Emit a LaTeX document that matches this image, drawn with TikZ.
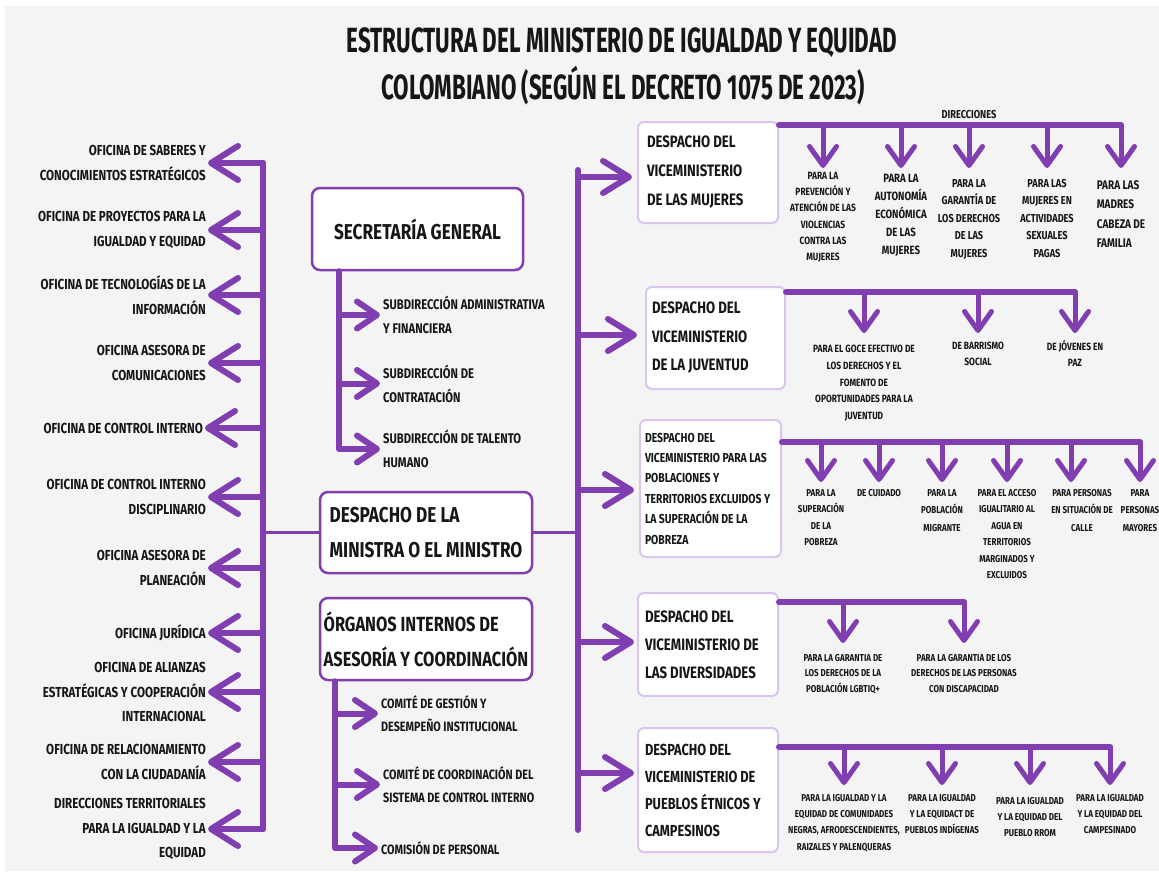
\documentclass[tikz,border=0pt]{standalone}
\usepackage{fontspec}
\setmainfont{Fira Sans}[FakeStretch=0.8]
\newfontfamily\titlefont{Fira Sans}[FakeStretch=0.64]
\usetikzlibrary{arrows.meta,calc}
\definecolor{pur}{RGB}{128,62,176}
\definecolor{lpur}{RGB}{218,196,240}
\definecolor{bgc}{RGB}{244,244,244}
\definecolor{ink}{RGB}{22,22,22}
\newcommand{\fs}[2]{\bfseries\fontsize{#1}{#2}\selectfont}
\begin{document}
\begin{tikzpicture}[x=1pt,y=-1pt,
  conn/.style={draw=pur, line width=6pt, line cap=round, line join=round},
  thinl/.style={draw=pur, line width=3pt},
  barbL/.style={-{Straight Barb[length=27pt,width=34pt,round]}},
  barbR/.style={-{Straight Barb[length=26pt,width=32pt,round]}},
  barbM/.style={-{Straight Barb[length=20pt,width=27pt,round]}},
  barbD/.style={line width=5pt,-{Straight Barb[length=19pt,width=27pt,round]}},
  mainbox/.style={draw=pur, line width=2.5pt, fill=white, rounded corners=8pt, align=flush left, text=ink, inner sep=0pt},
  vicebox/.style={draw=lpur, line width=2pt, fill=white, rounded corners=6pt, align=flush left, text=ink, inner ysep=0pt},
  ltxt/.style={align=flush right, anchor=east, inner sep=0pt, text=ink, font=\fs{14.5}{24.5}},
  stxt/.style={align=flush left, anchor=west, inner sep=0pt, text=ink},
  dtxt/.style={align=center, anchor=north, inner sep=0pt, text=ink},
  ttl/.style={inner sep=0pt, text=ink, font=\titlefont\bfseries\fontsize{35}{40}\selectfont}
]
\useasboundingbox (0,0) rectangle (1159,871);
\fill[white] (0,0) rectangle (1159,871);
\fill[bgc] (5,6) rectangle (1159,871);

% title
\node[ttl] (T1) at (622,42.5) {ESTRUCTURA DEL MINISTERIO DE IGUALDAD Y EQUIDAD};
\node[ttl] (T2) at (623,86) {COLOMBIANO (SEGÚN EL DECRETO 1075 DE 2023)};

% central boxes
\node[mainbox, minimum width=211pt, minimum height=82pt, font=\fs{21.5}{35}] (S) at (417.5,229) {SECRETARÍA GENERAL};
\node[mainbox, minimum width=212pt, minimum height=81pt, font=\fs{21.5}{35}] (D) at (426,532.5) {DESPACHO DE LA\\MINISTRA O EL MINISTRO};
\node[mainbox, minimum width=212pt, minimum height=82pt, font=\fs{20.5}{35}] (O) at (426,639) {ÓRGANOS INTERNOS DE\\ASESORÍA Y COORDINACIÓN};

% left column
\coordinate (lvt) at (263,163);
\coordinate (lvb) at (263,829);
\coordinate (rvt) at (578,170);
\coordinate (rvb) at (578,830);
\draw[conn] (lvt) -- (lvb);
\node[ltxt] (L1) at (206,163) {OFICINA DE SABERES Y\\CONOCIMIENTOS ESTRATÉGICOS};
\node[ltxt] (L2) at (206,230) {OFICINA DE PROYECTOS PARA LA\\IGUALDAD Y EQUIDAD};
\node[ltxt] (L3) at (206,295) {OFICINA DE TECNOLOGÍAS DE LA\\INFORMACIÓN};
\node[ltxt] (L4) at (206,363) {OFICINA ASESORA DE\\COMUNICACIONES};
\node[ltxt] (L5) at (203,428) {OFICINA DE CONTROL INTERNO};
\node[ltxt] (L6) at (206,497) {OFICINA DE CONTROL INTERNO\\DISCIPLINARIO};
\node[ltxt] (L7) at (206,568) {OFICINA ASESORA DE\\PLANEACIÓN};
\node[ltxt] (L8) at (206,633) {OFICINA JURÍDICA};
\node[ltxt] (L9) at (206,692) {OFICINA DE ALIANZAS\\ESTRATÉGICAS Y COOPERACIÓN\\INTERNACIONAL};
\node[ltxt] (L10) at (206,762) {OFICINA DE RELACIONAMIENTO\\CON LA CIUDADANÍA};
\node[ltxt] (L11) at (206,829) {DIRECCIONES TERRITORIALES\\PARA LA IGUALDAD Y LA\\EQUIDAD};
\foreach \n in {L1,L2,L3,L4,L5,L6,L7,L8,L9,L10,L11}
  \draw[conn,barbL,shorten >=2pt] (\n.east -| lvt) -- (\n.east);

% links of the minister's office
\draw[thinl] (D.west -| lvt) -- (D.west);
\draw[thinl] (D.east) -- (D.east -| rvt);

% secretaria subdirections
\coordinate (sv) at (339,0);
\node[stxt, font=\fs{14}{24}] (SS1) at (383,315) {SUBDIRECCIÓN ADMINISTRATIVA\\Y FINANCIERA};
\node[stxt, font=\fs{14}{24}] (SS2) at (383,383.5) {SUBDIRECCIÓN DE\\CONTRATACIÓN};
\node[stxt, font=\fs{14}{24}] (SS3) at (383,449) {SUBDIRECCIÓN DE TALENTO\\HUMANO};
\draw[conn,barbM,shorten >=3pt] (S.south -| sv) |- (SS3.west);
\draw[conn,barbM,shorten >=3pt] (SS1.west -| sv) -- (SS1.west);
\draw[conn,barbM,shorten >=3pt] (SS2.west -| sv) -- (SS2.west);

% organos subs
\coordinate (ov) at (335,0);
\node[stxt, font=\fs{13.5}{23}] (OS1) at (381,713.5) {COMITÉ DE GESTIÓN Y\\DESEMPEÑO INSTITUCIONAL};
\node[stxt, font=\fs{13.5}{23}] (OS2) at (383,784.5) {COMITÉ DE COORDINACIÓN DEL\\SISTEMA DE CONTROL INTERNO};
\node[stxt, font=\fs{13.5}{23}] (OS3) at (381,848) {COMISIÓN DE PERSONAL};
\draw[conn,barbM,shorten >=3pt] (O.south -| ov) |- (OS3.west);
\draw[conn,barbM,shorten >=3pt] (OS1.west -| ov) -- (OS1.west);
\draw[conn,barbM,shorten >=3pt] (OS2.west -| ov) -- (OS2.west);

% right vertical and vice-ministries
\draw[conn] (rvt) -- (rvb);
\node[vicebox, minimum width=140pt, minimum height=101pt, text width=122pt, inner xsep=9pt, font=\fs{16.5}{29}] (V1) at (708,172.5) {DESPACHO DEL\\VICEMINISTERIO\\DE LAS MUJERES};
\node[vicebox, minimum width=139pt, minimum height=102pt, text width=127pt, inner xsep=6pt, font=\fs{16.5}{28.5}] (V2) at (715.5,338) {DESPACHO DEL\\VICEMINISTERIO\\DE LA JUVENTUD};
\node[vicebox, minimum width=141pt, minimum height=137pt, text width=131pt, inner xsep=5pt, font=\fs{13}{20.4}] (V3) at (710.5,488.5) {DESPACHO DEL\\VICEMINISTERIO PARA LAS\\POBLACIONES Y\\TERRITORIOS EXCLUIDOS Y\\LA SUPERACIÓN DE LA\\POBREZA};
\node[vicebox, minimum width=140pt, minimum height=103pt, text width=126pt, inner xsep=7pt, font=\fs{16.5}{28}] (V4) at (708,644.5) {DESPACHO DEL\\VICEMINISTERIO DE\\LAS DIVERSIDADES};
\node[vicebox, minimum width=140pt, minimum height=124pt, text width=126pt, inner xsep=7pt, font=\fs{16}{27}] (V5) at (708,790) {DESPACHO DEL\\VICEMINISTERIO DE\\PUEBLOS ÉTNICOS Y\\CAMPESINOS};
\path ($(V1.west)+(-5,4.5)$) coordinate (e1);
\path ($(V2.west)+(-8,-3)$) coordinate (e2);
\path ($(V3.west)+(-5,1.5)$) coordinate (e3);
\path ($(V4.west)+(-3,-2.5)$) coordinate (e4);
\path ($(V5.west)+(-3,-17)$) coordinate (e5);
\foreach \e in {e1,e2,e3,e4,e5}
  \draw[conn,barbR] (\e -| rvt) -- (\e);

% group 1
\node[text=ink, inner sep=0pt, font=\fs{11.5}{13}] (DIR) at (969,115) {DIRECCIONES};
\coordinate (b1) at (0,125); \coordinate (t1) at (0,168);
\node[dtxt, font=\fs{10.5}{16.2}] (M11) at (823,172) {PARA LA\\PREVENCIÓN Y\\ATENCIÓN DE LAS\\VIOLENCIAS\\CONTRA LAS\\MUJERES};
\node[dtxt, font=\fs{12}{18}] (M12) at (901,174) {PARA LA\\AUTONOMÍA\\ECONÓMICA\\DE LAS\\MUJERES};
\node[dtxt, font=\fs{11.5}{17.5}] (M13) at (969,179) {PARA LA\\GARANTÍA DE\\LOS DERECHOS\\DE LAS\\MUJERES};
\node[dtxt, font=\fs{11.5}{17.5}] (M14) at (1047,179) {PARA LAS\\MUJERES EN\\ACTIVIDADES\\SEXUALES\\PAGAS};
\node[dtxt, align=flush left, font=\fs{12.5}{19.5}] (M15) at (1121,180) {PARA LAS\\MADRES\\CABEZA DE\\FAMILIA};
\draw[conn] (V1.east |- b1) -- (M15.north |- b1);
\foreach \m in {M11,M12,M13,M14,M15}
  \draw[conn,barbD] (\m.north |- b1) -- (\m.north |- t1);

% group 2
\coordinate (b2) at (0,292); \coordinate (t2) at (0,333);
\node[dtxt, font=\fs{10.5}{16.7}] (M21) at (864,345) {PARA EL GOCE EFECTIVO DE\\LOS DERECHOS Y EL\\FOMENTO DE\\OPORTUNIDADES PARA LA\\JUVENTUD};
\node[dtxt, font=\fs{10.5}{16}] (M22) at (978,342) {DE BARRISMO\\SOCIAL};
\node[dtxt, font=\fs{10.5}{16}] (M23) at (1075,340) {DE JÓVENES EN\\PAZ};
\draw[conn] (V2.east |- b2) -- (M23.north |- b2);
\foreach \m in {M21,M22,M23}
  \draw[conn,barbD] (\m.north |- b2) -- (\m.north |- t2);

% group 3
\coordinate (b3) at (0,442); \coordinate (t3) at (0,482);
\node[dtxt, font=\fs{10}{16.5}] (M31) at (821,489) {PARA LA\\SUPERACIÓN\\DE LA\\POBREZA};
\node[dtxt, font=\fs{10}{16.5}] (M32) at (879,489) {DE CUIDADO};
\node[dtxt, font=\fs{10}{17.5}] (M33) at (942,489) {PARA LA\\POBLACIÓN\\MIGRANTE};
\node[dtxt, font=\fs{10}{16.5}] (M34) at (1007,489) {PARA EL ACCESO\\IGUALITARIO AL\\AGUA EN\\TERRITORIOS\\MARGINADOS Y\\EXCLUIDOS};
\node[dtxt, font=\fs{10}{17.5}] (M35) at (1082,489) {PARA PERSONAS\\EN SITUACIÓN DE\\CALLE};
\node[dtxt, font=\fs{10}{17.5}] (M36) at (1140,489) {PARA\\PERSONAS\\MAYORES};
\draw[conn] (V3.east |- b3) -- (M36.north |- b3);
\foreach \m in {M31,M32,M33,M34,M36}
  \draw[conn,barbD] (\m.north |- b3) -- (\m.north |- t3);
\path ($(M35.north)+(-11,0)$) coordinate (m35a);
\draw[conn,barbD] (m35a |- b3) -- (m35a |- t3);

% group 4
\coordinate (b4) at (0,602); \coordinate (t4) at (0,643);
\node[dtxt, font=\fs{10}{15.5}] (M41) at (843,654) {PARA LA GARANTIA DE\\LOS DERECHOS DE LA\\POBLACIÓN LGBTIQ+};
\node[dtxt, font=\fs{10}{15.5}] (M42) at (964,654) {PARA LA GARANTIA DE LOS\\DERECHOS DE LAS PERSONAS\\CON DISCAPACIDAD};
\draw[conn] (V4.east |- b4) -- (M42.north |- b4);
\foreach \m in {M41,M42}
  \draw[conn,barbD] (\m.north |- b4) -- (\m.north |- t4);

% group 5
\coordinate (b5) at (0,747); \coordinate (t5) at (0,785);
\node[dtxt, font=\fs{10}{16.3}] (M51) at (844,794) {PARA LA IGUALDAD Y LA\\EQUIDAD DE COMUNIDADES\\NEGRAS, AFRODESCENDIENTES,\\RAIZALES Y PALENQUERAS};
\node[dtxt, font=\fs{10}{16}] (M52) at (942,794) {PARA LA IGUALDAD\\Y LA EQUIDACT DE\\PUEBLOS INDÍGENAS};
\node[dtxt, font=\fs{10}{16}] (M53) at (1030,797) {PARA LA IGUALDAD\\Y LA EQUIDAD DEL\\PUEBLO RROM};
\node[dtxt, font=\fs{10}{16}] (M54) at (1110,794) {PARA LA IGUALDAD\\Y LA EQUIDAD DEL\\CAMPESINADO};
\draw[conn] (V5.east |- b5) -- (M54.north |- b5);
\foreach \m in {M51,M52,M53,M54}
  \draw[conn,barbD] (\m.north |- b5) -- (\m.north |- t5);
\end{tikzpicture}
\end{document}
